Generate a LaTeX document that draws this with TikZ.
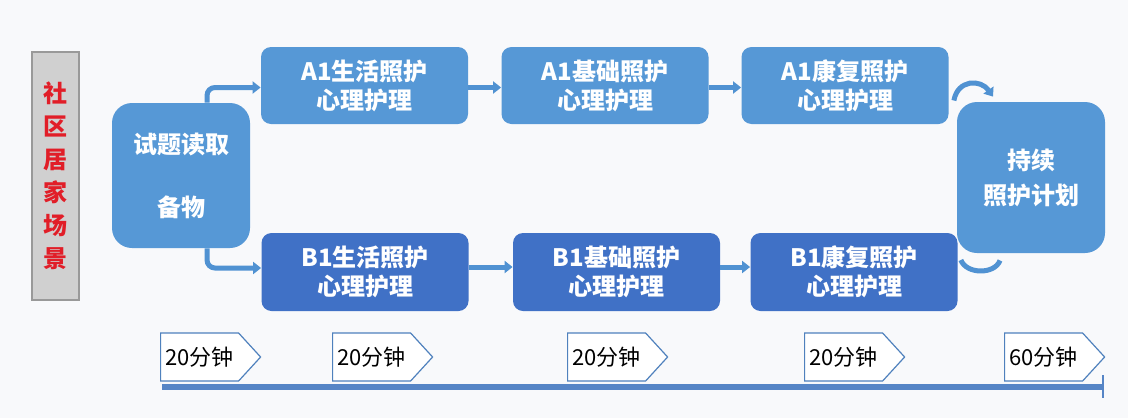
\documentclass[tikz,border=0pt]{standalone}
\usepackage{fontspec}
\setmainfont{Noto Sans CJK SC}
\usetikzlibrary{arrows.meta, positioning, shapes.symbols}

\definecolor{bgc}{RGB}{248,249,251}
\definecolor{boxA}{RGB}{86,152,214}
\definecolor{boxB}{RGB}{64,113,198}
\definecolor{arrowc}{RGB}{80,146,210}
\definecolor{tagc}{RGB}{79,129,189}
\definecolor{barc}{RGB}{86,133,198}
\definecolor{scenec}{RGB}{208,208,208}
\definecolor{redc}{RGB}{225,30,40}

\begin{document}
\begin{tikzpicture}[x=0.5pt, y=-0.5pt,
  abox/.style={rectangle, rounded corners=5pt, fill=boxA, text=white,
               font=\bfseries\fontsize{12}{14.5}\selectfont, align=center,
               minimum width=103.5pt, minimum height=38.5pt, inner sep=0pt},
  bbox/.style={abox, fill=boxB, minimum height=39pt},
  bigbox/.style={abox, rounded corners=10pt},
  flow/.style={-{Triangle[length=4pt,width=6pt]}, line width=2.5pt, draw=arrowc},
  arcline/.style={line width=2.5pt, draw=arrowc},
  tag/.style={signal, signal to=east, signal pointer angle=95, draw=tagc,
              line width=0.6pt, fill=white, minimum width=50pt,
              minimum height=24pt, inner sep=0pt,
              font=\fontsize{11}{12}\selectfont}
]
% page
\fill[bgc] (0,0) rectangle (1128,418);

% scene label
\node[draw=gray!80, line width=0.8pt, fill=scenec, minimum width=23.5pt,
      minimum height=124pt, inner sep=0pt, text=redc, align=center,
      font=\bfseries\fontsize{12}{16.5}\selectfont]
  (scene) at (55.5,176) {社\\区\\居\\家\\场\\景};

% start and end
\node[bigbox, minimum width=69pt, minimum height=72.5pt,
      font=\bfseries\fontsize{12}{31.5}\selectfont]
  (prep) at (181,175.5) {试题读取\\备物};
\node[bigbox, minimum width=74pt, minimum height=75.5pt,
      font=\bfseries\fontsize{12}{17.5}\selectfont]
  (plan) at (1031,177.5) {持续\\照护计划};

% row A
\node[abox] (a1) at (364.5,85.5) {A1生活照护\\心理护理};
\node[abox] (a2) at (605,85.5)   {A1基础照护\\心理护理};
\node[abox] (a3) at (845,85.5)   {A1康复照护\\心理护理};

% row B
\node[bbox] (b1) at (365,272)   {B1生活照护\\心理护理};
\node[bbox] (b2) at (616.5,272) {B1基础照护\\心理护理};
\node[bbox] (b3) at (854,272)   {B1康复照护\\心理护理};

% connectors
\draw[flow, rounded corners=4pt] ([xshift=13pt]prep.north) |- ([yshift=-1pt]a1.west);
\draw[flow, rounded corners=4pt] ([xshift=13pt]prep.south) |- ([yshift=2pt]b1.west);
\draw[flow] ([yshift=-1pt]a1.east) -- ([yshift=-1pt]a2.west);
\draw[flow] ([yshift=-1pt]a2.east) -- ([yshift=-1pt]a3.west);
\draw[flow] ([yshift=2.5pt]b1.east) -- ([yshift=2.5pt]b2.west);
\draw[flow] ([yshift=2.5pt]b2.east) -- ([yshift=2.5pt]b3.west);
\draw[flow] ([shift={(2.5pt,-7.5pt)}]a3.east) to[out=80, in=125, looseness=1.4]
  ([shift={(-19pt,2.5pt)}]plan.north);
\draw[arcline] ([shift={(1.5pt,6pt)}]b3.east) to[out=-70, in=-110]
  ([shift={(-15.5pt,-3.5pt)}]plan.south);

% timeline
\coordinate (tl0) at (162,387);
\coordinate (tl1) at (1103,387);
\coordinate (tk0) at (1103,375);
\coordinate (tk1) at (1103,398);
\draw[line width=3pt, draw=barc] (tl0) -- (tl1);
\draw[line width=0.6pt, draw=barc] (tk0) -- (tk1);

\node[tag, anchor=west] (t1) at (160,357)  {20分钟};
\node[tag, anchor=west] (t2) at (332,357)  {20分钟};
\node[tag, anchor=west] (t3) at (567,357)  {20分钟};
\node[tag, anchor=west] (t4) at (804,357)  {20分钟};
\node[tag, anchor=west] (t5) at (1004,357) {60分钟};
\end{tikzpicture}
\end{document}
